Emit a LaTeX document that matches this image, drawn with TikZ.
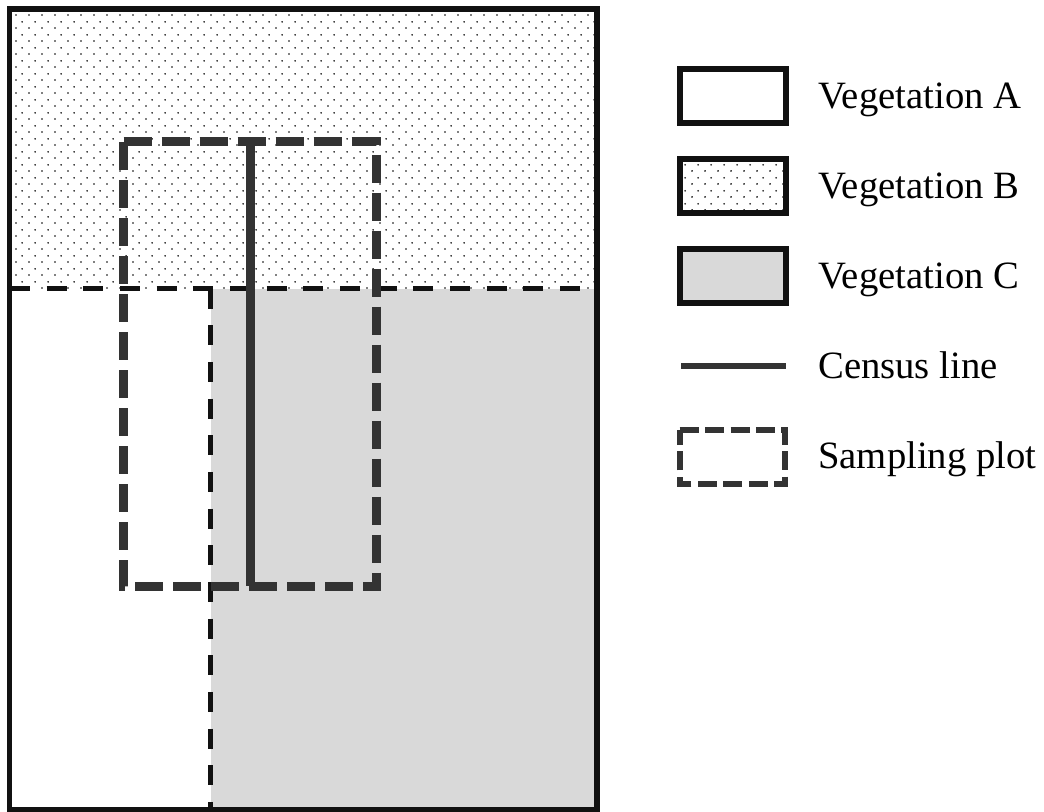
\documentclass[tikz,border=0pt]{standalone}
\usepackage{fontspec}
\setmainfont{Liberation Serif}
\usetikzlibrary{patterns}

% staggered dot texture used for vegetation B
\pgfdeclarepatternformonly{vegdots}{\pgfpointorigin}{\pgfqpoint{9.75pt}{9.75pt}}{\pgfqpoint{9.75pt}{9.75pt}}{%
  \pgfpathcircle{\pgfqpoint{2.4375pt}{2.4375pt}}{0.72pt}%
  \pgfpathcircle{\pgfqpoint{7.3125pt}{7.3125pt}}{0.72pt}%
  \pgfusepath{fill}}

\definecolor{plotgrey}{RGB}{51,51,51}
\definecolor{vegC}{RGB}{217,217,217}
\definecolor{edge}{RGB}{17,17,17}

\begin{document}
\begin{tikzpicture}[x=0.75pt, y=-0.75pt,
  frame/.style={draw=edge, line width=4.2pt},
  border/.style={draw=edge, line width=3.1pt, dash pattern=on 15pt off 12.5pt},
  plotline/.style={draw=plotgrey, line width=6.8pt, dash pattern=on 21pt off 7.5pt},
  censusline/.style={draw=plotgrey, line width=7.2pt},
  legbox/.style={draw=edge, line width=4.5pt, minimum width=79.5pt, minimum height=40.5pt, inner sep=0pt},
  legplot/.style={draw=plotgrey, line width=4.5pt, dash pattern=on 14.25pt off 4.8pt},
  legtext/.style={anchor=base west, inner sep=0pt, font=\fontsize{29}{34}\selectfont}]

\useasboundingbox (0,0) rectangle (1044,811);

% vegetation zones
\fill[pattern=vegdots, pattern color=black] (9.5,9) rectangle (597,288.5);
\fill[vegC] (210.5,288.5) rectangle (597,810);

% zone boundaries
\coordinate (hl) at (10,288.5);
\coordinate (hr) at (597,288.5);
\coordinate (vt) at (210.5,288.5);
\coordinate (vb) at (210.5,810);
\draw[border] (hl) -- (hr);
\draw[border] (vt) -- (vb);

% survey area frame
\draw[frame] (9.5,9) rectangle (597,810);

% sampling plot and census line
\coordinate (p1) at (123.5,141.5);
\coordinate (p2) at (376.5,141.5);
\coordinate (p3) at (376.5,586.5);
\coordinate (p4) at (123.5,586.5);
\draw[plotline] (p1) -- (p2) -- (p3) -- (p4) -- cycle;
\coordinate (ctop) at (250.5,141.5);
\coordinate (cbot) at (250.5,586);
\draw[censusline] (ctop) -- (cbot);

% legend
\node[legbox] (keyA) at (733,96) {};
\node[legbox, pattern=vegdots, pattern color=black] (keyB) at (733,186) {};
\node[legbox, fill=vegC] (keyC) at (733,276) {};
\coordinate (keyDl) at (681,366);
\coordinate (keyDr) at (786,366);
\draw[censusline, line width=5pt] (keyDl) -- (keyDr);
\node[minimum width=78.75pt, minimum height=40.5pt, inner sep=0pt] (keyE) at (732.5,457) {};
\draw[legplot] (keyE.north west) -- (keyE.north east) -- (keyE.south east) -- (keyE.south west) -- cycle;

\node[legtext] (labA) at (818,108.6) {Vegetation A};
\node[legtext] (labB) at (818,198.6) {Vegetation B};
\node[legtext] (labC) at (818,288.6) {Vegetation C};
\node[legtext] (labD) at (818,378.6) {Census line};
\node[legtext] (labE) at (818,468) {Sampling plot};
\end{tikzpicture}
\end{document}
